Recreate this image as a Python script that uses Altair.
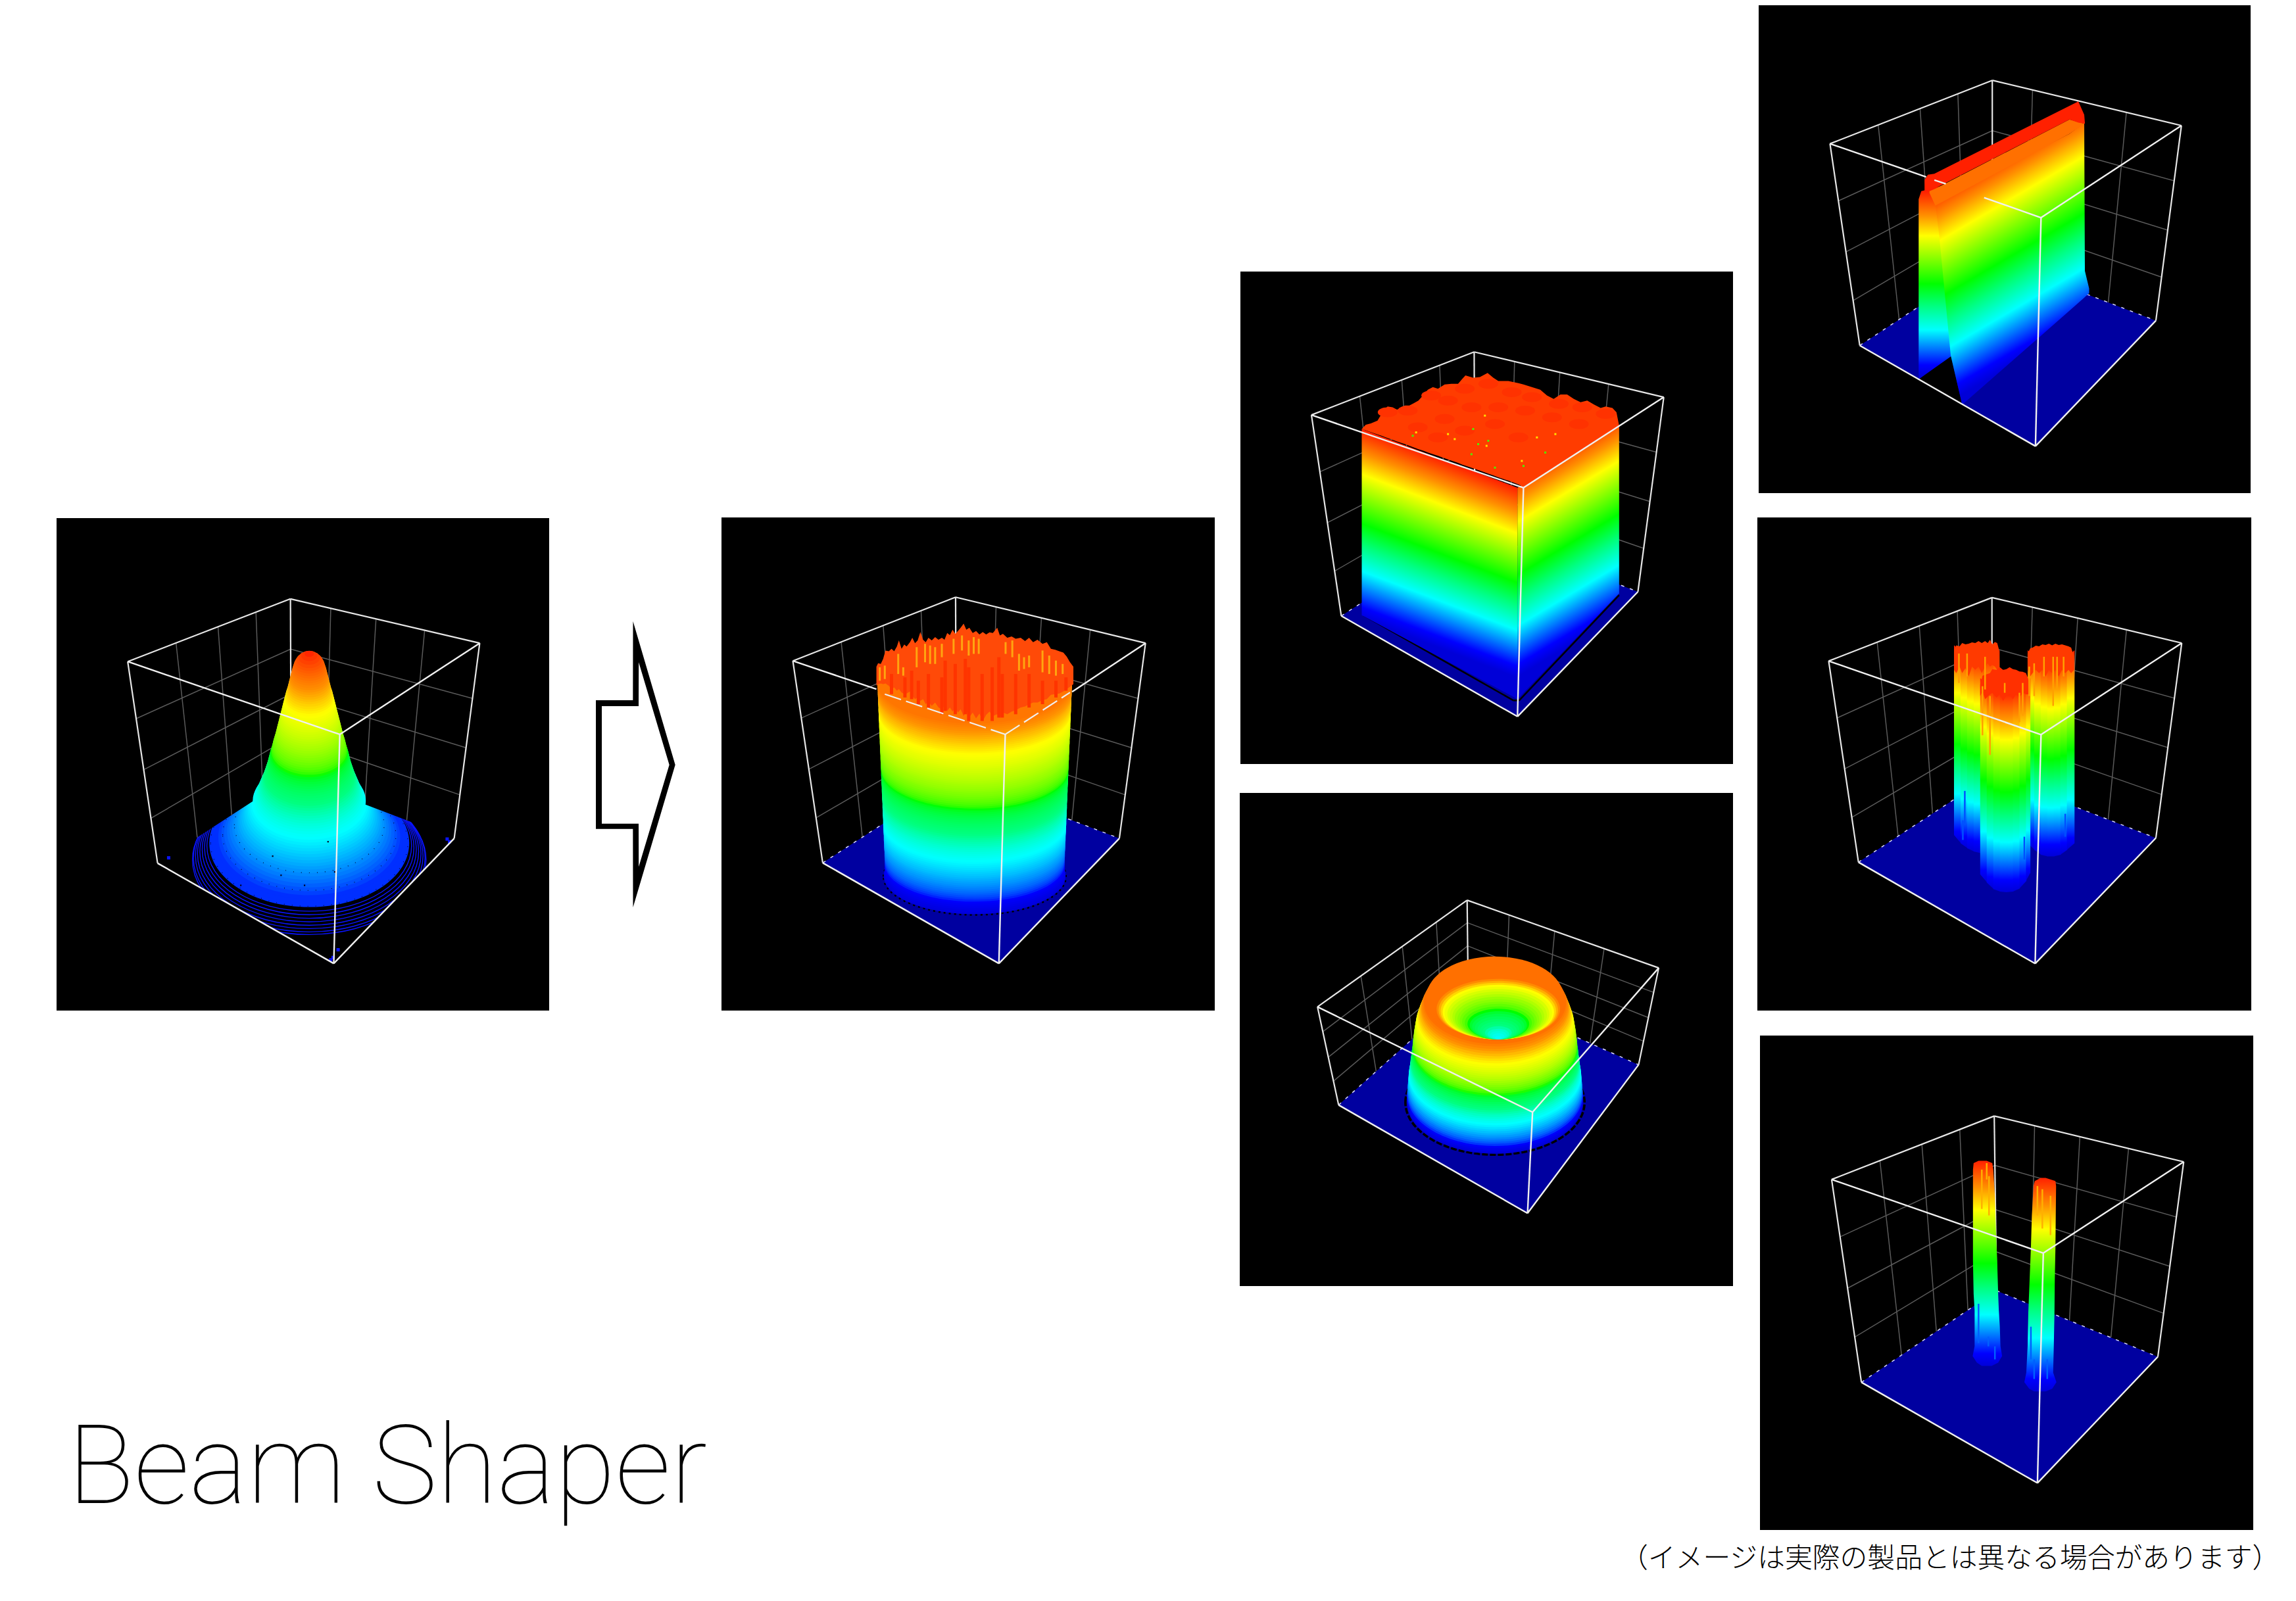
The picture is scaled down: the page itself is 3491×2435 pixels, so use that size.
import altair as alt
import pandas as pd

# ---------------- readings of each panel (in crop-reading units) ----------------
PANELS = {
    "gauss":  dict(ox=60,   oy=770,  sx=1.96, sy=1.96, rect=(86,788,835,1537),
                   TB=(748,276), TR=(1312,408), TL=(263,463), TF=(895,680), BL=(352,1064), BR=(1236,990), BF=(877,1363), BB=(750,805)),
    "cyl":    dict(ox=1080, oy=770,  sx=1.96, sy=1.96, rect=(1097,787,1847,1537),
                   TB=(731,271), TR=(1297,408), TL=(246,461), TF=(879,680), BL=(335,1063), BR=(1219,990), BF=(860,1363), BB=(733,805)),
    "cube":   dict(ox=1870, oy=400,  sx=1.96, sy=1.96, rect=(1886,413,2635,1162),
                   TB=(728,265), TR=(1293,400), TL=(243,453), TF=(875,670), BL=(332,1052), BR=(1216,980), BF=(857,1352), BB=(730,795)),
    "donut":  dict(ox=1870, oy=1200, sx=1.96, sy=2.01, rect=(1885,1206,2635,1956),
                   TB=(707,340), TR=(1278,547), TL=(261,666), TF=(902,988), BL=(324,966), BR=(1218,843), BF=(887,1297), BB=(710,612),
                   fl=(.29,.567,.794), fr=(.219,.457,.715), fh=(.253,.513,.757)),
    "rail":   dict(ox=2670, oy=0,    sx=2.01, sy=2.063, rect=(2674,0,3422,750),
                   TB=(722,252), TR=(1300,394), TL=(226,451), TF=(871,683), BL=(317,1084), BR=(1222,1006), BF=(854,1400), BB=(722,810)),
    "three":  dict(ox=2670, oy=780,  sx=2.01, sy=2.01, rect=(2672,787,3423,1537),
                   TB=(721,259), TR=(1301,398), TL=(222,453), TF=(871,678), BL=(313,1068), BR=(1222,994), BF=(853,1378), BB=(721,800)),
    "two":    dict(ox=2670, oy=1570, sx=2.01, sy=2.01, rect=(2676,1575,3426,2327),
                   TB=(728,256), TR=(1307,396), TL=(231,450), TF=(878,675), BL=(322,1070), BR=(1228,992), BF=(860,1378), BB=(735,790)),
}
FL, FR, FH = (.297,.555,.788), (.213,.452,.709), (.283,.536,.777)

RAINBOW = [(0,'#0000d8'),(.06,'#0000ff'),(.25,'#00ffff'),(.38,'#00ff80'),(.5,'#00ff00'),(.76,'#ffff00'),(.87,'#ff9000'),(1,'#ff2000')]

# Gaussian profile: (centre height, half-width)
G = [(440,14),(446,24),(452,32),(458,38),(464,42),(470,45),(476,47),(482,49),(488,51),(494,52.5),(500,54),(506,55.5),(512,57),(518,58.5),(524,60),(530,61.5),(536,63),(542,64.5),(548,66),(554,68),(560,70),(566,71.5),(572,73),(578,74.5),(584,76),(590,77.5),(596,79),(602,80.5),(608,82),(614,83.5),(620,85),(626,86.5),(632,88),(638,89.5),(644,91),(650,92.5),(656,94),(662,95.5),(668,97),(674,98.5),(680,100),(686,101.5),(692,103),(698,105),(704,107),(710,108.5),(716,110),(722,111.5),(728,113),(734,115),(740,117),(746,118.5),(752,120),(758,121.5),(764,123),(770,124.5),(776,126),(782,128),(788,130),(794,132),(800,134),(806,136),(812,138),(818,140.5),(824,143),(830,145.5),(836,148),(842,150.5),(848,153),(854,155.5),(860,158),(866,161.5),(872,165),(878,168.5),(884,172),(890,176),(896,180),(902,184),(908,188),(914,192.5),(920,197),(926,202),(932,207),(938,212),(944,217),(950,223.5),(956,230),(962,237.5),(968,245),(974,253.5),(980,262),(986,271),(992,280),(998,289),(1004,298)]
G_RING_CY = [1012,1018,1024,1030,1036,1042,1048,1054]
G_RING_R  = [305,312,319,326,333,339,345,348]
G_STIPPLE_CY = [950,980,1004]
G_STIPPLE_R  = [223,258,294]
G_SPECK_X = [695,880,790,860,720,600,650,1010]
G_SPECK_Y = [1043,1090,1130,1000,1100,1130,1170,1150]
G_BLUE_X = [1215,875,890,385,1222,868]
G_BLUE_Y = [992,1345,1322,1048,1000,1352]
G_MASK_BACK_L = dict(x=[300,352,750], top=[600,600,600], bot=[1098,1064,805])
G_MASK_BACK_R = dict(x=[750,1236,1290], top=[600,600,600], bot=[805,990,1012])
G_MASK_FRONT_L = dict(x=[300,352,877], top=[1098,1064,1363], bot=[1460,1460,1460])
G_MASK_FRONT_R = dict(x=[877,1236,1290], top=[1363,990,934], bot=[1460,1460,1460])

# Cylinder profile
C_CY = list(range(1102,513,-6))
C_R  = [271,270,269,269,268,268,268,268,268,268,269,269,269,269,270,270,270,270,271,271,271,271,272,272,272,272,
        273,273,273,273,274,274,274,274,275,275,275,275,276,276,276,276,277,277,277,277,278,278,278,278,279,279,279,279,
        280,280,280,280,281,281,281,281,282,282,282,282,283,283,283,283,284,284,284,284,285,285,285,285,286,286,286,286,
        287,287,287,287,288,288,288,288,289,289,289,289,290,290,290]
CROWN = [(495,478,535),(500,468,530),(508,470,528),(515,455,530),(522,430,528),(532,432,535),(540,425,545),(548,432,540),(556,418,550),(562,400,545),(570,425,555),(578,412,560),(585,418,558),(595,405,552),(602,392,565),(610,408,575),(618,400,570),(626,375,580),(634,398,575),(642,405,590),(650,392,582),(660,400,595),(670,390,585),(680,398,600),(690,392,605),(698,398,595),(706,378,610),(714,384,600),(722,368,612),(730,380,600),(738,372,615),(746,362,605),(755,350,625),(763,368,610),(772,362,628),(782,378,615),(792,372,632),(802,382,618),(812,375,640),(822,382,622),(832,376,612),(842,378,625),(855,362,620),(863,385,630),(872,380,615),(885,392,620),(898,388,612),(910,395,608),(925,392,600),(938,402,597),(950,392,590),(962,405,585),(975,398,585),(990,410,578),(1003,405,575),(1015,425,562),(1028,428,560),(1040,432,558),(1052,436,552),(1062,448,545),(1072,465,538),(1082,478,530)]
C_ORANGE = [(560,440,500),(575,480,505),(615,420,480),(640,410,465),(655,415,470),(670,420,470),(690,410,450),(725,395,440),(750,385,430),(770,400,445),(785,390,440),(800,395,440),(880,405,440),(900,400,450),(920,440,490),(935,450,485),(950,445,480),(990,430,495),(1010,445,500),(1030,460,505),(1050,470,500),(505,480,520),(520,475,515)]
C_RED = [(540,500,560),(580,510,570),(620,520,590),(650,500,600),(690,510,620),(730,470,620),(770,480,640),(810,500,640),(840,480,640),(870,500,630),(910,500,620),(950,500,600),(990,520,590),(1030,520,570),(1060,510,550),(600,490,575),(700,460,610),(760,455,620),(860,450,630)]

# Cube
CUBE_L = dict(x=[393,857], top=[495,670], bot=[1050,1300])
CUBE_R = dict(x=[857,1160], top=[670,485], bot=[1300,985])
CUBE_TOP = [(393,495,495),(405,482,499),(420,478,504),(440,470,511),(452,450,515),(462,435,519),(470,428,522),(485,430,527),(498,437,532),(510,432,536),(522,425,540),(535,425,545),(548,418,550),(562,410,555),(578,392,560),(590,378,565),(605,370,570),(620,375,575),(640,362,582),(660,360,589),(680,360,596),(693,345,601),(702,335,604),(725,342,612),(745,340,619),(768,328,627),(785,342,633),(800,352,639),(830,352,649),(860,358,660),(875,362,668),(900,370,650),(925,378,634),(945,395,622),(965,405,609),(985,392,596),(1005,392,584),(1025,405,571),(1045,415,559),(1065,410,547),(1085,422,534),(1105,432,522),(1120,428,513),(1140,432,500),(1152,445,494),(1160,485,488)]
CUBE_BUMP_X = [470,530,600,650,700,770,840,900,980,1050,1120,560,640,720,800,880,960,1040,620,700,790,860]
CUBE_BUMP_Y = [445,440,395,410,375,360,385,400,420,430,450,490,465,430,430,440,460,480,520,500,480,520]
CUBE_SPECK_X = [770,725,740,875,790,940,545,720,670,760,970,555,765,650,870,915]
CUBE_SPECK_Y = [530,495,540,605,610,565,515,570,525,455,510,505,545,510,590,520]

# Donut: (centre height, half-width)
D = [(958,262),(952,262),(946,262),(940,262),(934,262),(928,261),(922,261),(916,260),(910,260),(904,259),(898,259),(892,258),(886,258),(880,257),(874,257),(868,256),(862,255),(856,254),(850,253),(844,252),(838,252),(832,251),(826,250),(820,249),(814,249),(808,248),(802,247),(796,246),(790,246),(784,245),(778,245),(772,244),(766,243),(760,242),(754,242),(748,241),(742,240),(736,239),(730,238),(724,237),(718,236),(712,235),(706,233),(700,231),(694,229),(688,227),(682,225),(676,222),(670,220),(664,218),(658,215),(652,212),(646,209),(640,206),(634,203)]
H_CY = [673,676,679,682,685,688,692,696,700,704,708,711,715,718,722,726,730,734,738,742,745,749,752,756,760]
H_R  = [184,178,172,166,160,152,145,137,130,122,115,108,100,92,85,78,70,62,55,47,40,32,25,18,10]
H_LV = [88,84,80,76,73,69,66,63,60,58,56,54,52,50,48,46,44,42,40,38,35,32,30,28,26]

# Rail
RAIL_LEFT = dict(x=[497,505,600], top=[625,600,575], bot=[1190,1184,1115])
RAIL_GAP  = dict(x=[497,595,630], top=[1190,1115,1270], bot=[1190,1249,1270])
RAIL_FACE = dict(x=[548,560,595,630,958,1003,1005,1018], top=[640,635,612,590,420,385,850,905], bot=[640,740,1115,1270,975,934,932,920])
RAIL_RED  = dict(x=[515,525,545,958,985,1003,1005], top=[565,548,545,332,318,360,385], bot=[600,600,592,375,385,388,388])
RAIL_ORG  = dict(x=[530,548,958,1003], top=[600,592,375,388], bot=[605,645,420,388])

# Three pillars
PA = dict(x=[605,625,645,665,685,705,725,743], top=[405,420,432,440,441,440,432,420], bot=[985,1010,1025,1035,1040,1040,1030,1000])
PB = dict(x=[830,850,870,890,910,930,950,972], top=[420,438,450,457,458,452,440,420], bot=[1010,1030,1045,1050,1050,1045,1030,1010])
PC = dict(x=[685,705,725,745,765,785,805,825,837], top=[505,525,540,547,548,547,540,522,505], bot=[1105,1130,1150,1158,1160,1158,1148,1125,1100])
CA = [(605,425,480),(612,405,490),(622,408,470),(630,398,490),(640,402,475),(650,400,500),(660,396,470),(670,398,480),(680,392,470),(690,398,490),(700,392,470),(708,398,460),(715,388,470),(722,402,465),(730,395,470),(737,398,480),(743,420,480)]
CB = [(830,430,480),(838,414,500),(845,412,490),(855,406,480),(865,408,490),(875,402,480),(885,404,500),(895,400,480),(905,405,490),(915,400,480),(925,404,500),(935,402,480),(945,405,490),(955,408,480),(963,412,490),(972,440,480)]
CC = [(685,525,560),(692,498,545),(700,495,570),(715,490,555),(722,478,550),(735,480,565),(745,472,555),(755,480,575),(765,478,560),(775,472,555),(785,478,570),(795,480,555),(805,485,565),(815,486,550),(825,490,555),(837,520,555)]
P_ORANGE = [(645,430,500),(700,440,540),(715,560,740),(805,550,640),(835,470,560),(850,460,560),(908,440,590),(920,440,540),(620,430,520),(692,530,680),(760,520,550),(880,440,500),(940,440,500),(815,520,620)]
P_BLUE = [(638,850,950),(820,990,1060),(945,920,990),(632,940,1000)]

# Two pillars (silhouette rows)
T1 = dict(y=[393,400,420,500,600,700,800,850,900,960,990,1010,1020], l=[680,665,663,663,663,663,665,668,668,668,662,675,690], r=[705,722,725,730,733,737,740,742,745,747,752,740,720])
T2 = dict(y=[445,455,470,560,660,760,860,960,1040,1070,1090,1098], l=[870,852,848,843,840,836,832,830,826,820,835,850], r=[885,915,917,916,915,913,912,910,908,918,905,885])
T_ORANGE = [(690,420,540),(712,440,560),(875,480,600),(900,500,620),(705,400,450),(860,470,560)]
T_BLUE = [(680,830,950),(710,930,960),(730,960,1000),(840,900,1000),(890,1000,1060),(850,1000,1060)]

# Arrow (crop readings at 3x from 880,930)
AR_OUT = dict(x=[78,247,247.5,440], top=[405,405,45,700], bot=[992,992,1350,700])
AR_IN  = dict(x=[105,273,273.5,413], top=[432,432,232,700], bot=[968,968,1165,700])

TITLE = "Beam Shaper"
NOTE = "（イメージは実際の製品とは異なる場合があります）"

# ---------------- chart helpers ----------------
XS = alt.Scale(domain=[8,3483], nice=False, zero=False)
YS = alt.Scale(domain=[2427,8], nice=False, zero=False)
X = alt.X('x:Q', scale=XS, axis=None)
Y = alt.Y('y:Q', scale=YS, axis=None)
layers = []

def pt(p, zx, zy):
    return p['ox'] + zx/p['sx'], p['oy'] + zy/p['sy']

def lerp(a, b, f):
    return (a[0]+(b[0]-a[0])*f, a[1]+(b[1]-a[1])*f)

def grad(x1=0, y1=1, x2=0, y2=0):
    return alt.Gradient(gradient='linear', x1=x1, y1=y1, x2=x2, y2=y2,
                        stops=[alt.GradientStop(color=c, offset=o) for o, c in RAINBOW])

def tilted(f, slope, xref, y0, y1):
    xmin, xmax = min(f['x']), max(f['x'])
    ymin, ymax = min(f['top']), max(f['bot'])
    W, H = xmax-xmin, ymax-ymin
    m = slope*W/H
    n = (1+m*m)**.5
    d = (-m/n, 1/n)
    u = (xref-xmin)/W
    t0 = u*d[0] + (y0-ymin)/H*d[1]
    t1 = u*d[0] + (y1-ymin)/H*d[1]
    return grad(d[0]*t0, d[1]*t0, d[0]*t1, d[1]*t1)

def rules(segs, color, width, dash=None):
    df = pd.DataFrame([dict(x=a[0], y=a[1], x2=b[0], y2=b[1]) for a, b in segs])
    kw = dict(color=color, strokeWidth=width)
    if dash:
        kw['strokeDash'] = dash
    layers.append(alt.Chart(df).mark_rule(**kw).encode(x=X, y=Y, x2=alt.X2('x2:Q'), y2=alt.Y2('y2:Q')))

def area(p, f, color):
    rows = []
    for x, t, b in zip(f['x'], f['top'], f['bot']):
        px, pt_ = pt(p, x, t)
        _, pb = pt(p, x, b)
        rows.append(dict(x=px, y=pt_, y2=pb))
    layers.append(alt.Chart(pd.DataFrame(rows)).mark_area(color=color, line=False).encode(x=X, y=Y, y2=alt.Y2('y2:Q')))

def triples(t):
    return dict(x=[a for a, b, c in t], top=[b for a, b, c in t], bot=[c for a, b, c in t])

def columns(p, f):
    rows = []
    n = len(f['x'])
    for i in range(n-1):
        for j, extra in ((i, 0), (i+1, .7)):
            px, pt_ = pt(p, f['x'][j], f['top'][j])
            _, pb = pt(p, f['x'][j], f['bot'][j])
            rows.append(dict(id=i, x=px+extra, y=pt_, y2=pb))
    layers.append(alt.Chart(pd.DataFrame(rows)).mark_area(color=grad(), line=False).encode(
        x=X, y=Y, y2=alt.Y2('y2:Q'), detail='id:N'))

def silhouette(p, f):
    rows = []
    for y, l, r in zip(f['y'], f['l'], f['r']):
        a = pt(p, l, y)
        b = pt(p, r, y)
        rows.append(dict(x=a[0], x2=b[0], y=a[1]))
    layers.append(alt.Chart(pd.DataFrame(rows)).mark_area(color=grad(), line=False, orient='horizontal').encode(
        x=X, x2=alt.X2('x2:Q'), y=Y))

def ell(ratio):
    return f"M-1,0A1,{ratio} 0 1,1 1,0A1,{ratio} 0 1,1 -1,0Z"

LEVEL = alt.Color('level:Q', legend=None, scale=alt.Scale(
    domain=[o*100 for o, c in RAINBOW], range=[c for o, c in RAINBOW]))

def discs(p, cx, cys, rs, levels, ratio):
    rows = []
    for cy, r, lv in zip(cys, rs, levels):
        x, y = pt(p, cx, cy)
        rows.append(dict(x=x, y=y, s=(2*r/p['sx'])**2, level=lv, o=len(rows)))
    layers.append(alt.Chart(pd.DataFrame(rows)).mark_point(filled=True, opacity=1, shape=ell(ratio), strokeWidth=0).encode(
        x=X, y=Y, size=alt.Size('s:Q', scale=None, legend=None), color=LEVEL, order=alt.Order('o:Q')))

def outline(p, cx, cys, rs, ratio, color, width, dash=None):
    rows = []
    for cy, r in zip(cys, rs):
        x, y = pt(p, cx, cy)
        rows.append(dict(x=x, y=y, s=(2*r/p['sx'])**2))
    kw = dict(filled=False, opacity=1, shape=ell(ratio), color=color, strokeWidth=width)
    if dash:
        kw['strokeDash'] = dash
    layers.append(alt.Chart(pd.DataFrame(rows)).mark_point(**kw).encode(
        x=X, y=Y, size=alt.Size('s:Q', scale=None, legend=None)))

def dots(p, xs, ys, color, size, shape='square'):
    rows = []
    for a, b in zip(xs, ys):
        x, y = pt(p, a, b)
        rows.append(dict(x=x, y=y))
    layers.append(alt.Chart(pd.DataFrame(rows)).mark_point(filled=True, opacity=1, shape=shape, color=color, size=size, strokeWidth=0).encode(x=X, y=Y))

def streaks(p, items, color, width):
    rules([(pt(p, x, a), pt(p, x, b)) for x, a, b in items], color, width)

# ---------------- black panels ----------------
rect_df = pd.DataFrame([dict(x=max(p['rect'][0],8), y=max(p['rect'][1],8), x2=p['rect'][2], y2=p['rect'][3]) for p in PANELS.values()])
layers.append(alt.Chart(rect_df).mark_rect(color='#000000').encode(x=X, y=Y, x2=alt.X2('x2:Q'), y2=alt.Y2('y2:Q')))

# ---------------- Gaussian skirt (below the wire box) ----------------
p = PANELS['gauss']
outline(p, 804, G_RING_CY, G_RING_R, .64, '#0a14ff', 1.4)
lower = [g for g in G if g[0] >= 884][::-1]
discs(p, 804, [g[0] for g in lower], [g[1] for g in lower], [max(100*(1032-g[0])/594, 7) for g in lower], .64)
outline(p, 804, G_STIPPLE_CY, G_STIPPLE_R, .64, '#000030', 1.2, [1, 11])
for m in (G_MASK_BACK_L, G_MASK_BACK_R, G_MASK_FRONT_L, G_MASK_FRONT_R):
    area(p, m, '#000000')
dots(p, G_BLUE_X, G_BLUE_Y, '#0a14ff', 25)

# ---------------- wire boxes ----------------
grid, back = [], []
for p in PANELS.values():
    fl, fr, fh = p.get('fl', FL), p.get('fr', FR), p.get('fh', FH)
    P = {k: pt(p, *p[k]) for k in ('TB','TR','TL','TF','BL','BR','BF','BB')}
    for f in fl:
        grid.append((lerp(P['TL'],P['TB'],f), lerp(P['BL'],P['BB'],f)))
    for f in fr:
        grid.append((lerp(P['TB'],P['TR'],f), lerp(P['BB'],P['BR'],f)))
    for h in fh:
        m = lerp(P['TB'],P['BB'],h)
        grid.append((lerp(P['TL'],P['BL'],h), m))
        grid.append((m, lerp(P['TR'],P['BR'],h)))
    back += [(P['TL'],P['TB']),(P['TB'],P['TR']),(P['TL'],P['BL']),(P['TR'],P['BR']),(P['TB'],P['BB'])]
rules(grid, '#5a5a5a', 1.5)
rules(back, '#e6e6e6', 2.2)

# ---------------- floors ----------------
rows = []
for name, p in PANELS.items():
    if name == 'gauss':
        continue
    BL, BB, BF, BR = [pt(p, *p[k]) for k in ('BL','BB','BF','BR')]
    top_f = BB[1] + (BR[1]-BB[1])*(BF[0]-BB[0])/(BR[0]-BB[0])
    bot_b = BL[1] + (BF[1]-BL[1])*(BB[0]-BL[0])/(BF[0]-BL[0])
    rows += [dict(id=name, x=BL[0], y=BL[1], y2=BL[1]), dict(id=name, x=BB[0], y=BB[1], y2=bot_b),
             dict(id=name, x=BF[0], y=top_f, y2=BF[1]), dict(id=name, x=BR[0], y=BR[1], y2=BR[1])]
layers.append(alt.Chart(pd.DataFrame(rows)).mark_area(color='#0000a0', line=False).encode(x=X, y=Y, y2=alt.Y2('y2:Q'), detail='id:N'))
dash = []
for name, p in PANELS.items():
    if name != 'gauss':
        dash += [(pt(p,*p['BL']), pt(p,*p['BB'])), (pt(p,*p['BB']), pt(p,*p['BR']))]
rules(dash, '#d8d8ff', 1.5, [5, 9])

# ---------------- Gaussian dome ----------------
p = PANELS['gauss']
upper = [g for g in G if g[0] < 884][::-1]
discs(p, 804, [g[0] for g in upper], [g[1] for g in upper], [100*(1032-g[0])/594 for g in upper], .64)
dots(p, G_SPECK_X, G_SPECK_Y, '#000020', 5)

# ---------------- Cylinder ----------------
p = PANELS['cyl']
outline(p, 788, [1104], [272], .42, '#000000', 2.5, [3, 5])
discs(p, 788, C_CY, C_R, [(1108-c)/6.38 for c in C_CY], .42)
area(p, triples(CROWN), '#ff4a08')
streaks(p, C_RED, '#ff3400', 5)
streaks(p, C_ORANGE, '#ffa510', 3)

# ---------------- Cube ----------------
p = PANELS['cube']
rules([(pt(p,398,1050),pt(p,845,1304)),(pt(p,845,1304),pt(p,862,1304)),(pt(p,862,1304),pt(p,1160,990))], '#000000', 2.5)
area(p, CUBE_L, tilted(CUBE_L, .38, 393, 1060, 494))
area(p, CUBE_R, tilted(CUBE_R, -.6, 1160, 1052, 444))
area(p, triples(CUBE_TOP), '#ff3c00')
dots(p, CUBE_BUMP_X, CUBE_BUMP_Y, '#ff3200', 900, ell(.5))
dots(p, CUBE_SPECK_X[:8], CUBE_SPECK_Y[:8], '#50f000', 9)
dots(p, CUBE_SPECK_X[8:], CUBE_SPECK_Y[8:], '#ffe000', 9)

# ---------------- Donut ----------------
p = PANELS['donut']
outline(p, 790, [958], [267], .585, '#000000', 3.5, [9, 3])
discs(p, 790, [d[0] for d in D], [d[1] for d in D], [min((958-d[0])/3.33, 92) for d in D], .585)
discs(p, 800, H_CY, H_R, H_LV, .49)

# ---------------- Rail ----------------
p = PANELS['rail']
area(p, RAIL_GAP, '#000000')
area(p, RAIL_LEFT, tilted(RAIL_LEFT, 0, 497, 1180, 601))
area(p, RAIL_FACE, tilted(RAIL_FACE, -.6, 1003, 1014, 324))
area(p, RAIL_ORG, '#ff7000')
area(p, RAIL_RED, '#ff2000')

# ---------------- Three pillars ----------------
p = PANELS['three']
columns(p, PA)
area(p, triples(CA), '#ff3a00')
columns(p, PB)
area(p, triples(CB), '#ff3a00')
columns(p, PC)
area(p, triples(CC), '#ff3000')
streaks(p, P_ORANGE, '#ffa000', 2.5)
streaks(p, P_BLUE, '#0050ff', 2.5)

# ---------------- Two pillars ----------------
p = PANELS['two']
silhouette(p, T1)
silhouette(p, T2)
streaks(p, T_ORANGE, '#ffb000', 2.5)
streaks(p, T_BLUE, '#0060ff', 2.5)

# ---------------- Front edges ----------------
front = []
for name, p in PANELS.items():
    P = {k: pt(p, *p[k]) for k in ('TL','TF','TR','BL','BR','BF')}
    front += [(P['TF'],P['BF']),(P['BL'],P['BF']),(P['BF'],P['BR'])]
    if name == 'cyl':
        front += [(P['TL'],pt(p,495,545)),(pt(p,1078,553),P['TR'])]
    elif name == 'rail':
        front += [(P['TL'],pt(p,520,555)),(pt(p,545,565),pt(p,580,577)),(pt(p,697,620),P['TF']),(P['TF'],P['TR'])]
    else:
        front += [(P['TL'],P['TF']),(P['TF'],P['TR'])]
rules(front, '#f0f0f0', 2.4)
p = PANELS['cyl']
rules([(pt(p,520,560),pt(p,879,680)),(pt(p,879,680),pt(p,1072,555))], '#f0f0f0', 2.2, [26, 8])

# ---------------- Arrow ----------------
arrow = dict(ox=880, oy=930, sx=3, sy=3)
area(arrow, AR_OUT, '#000000')
area(arrow, AR_IN, '#ffffff')

# ---------------- Text ----------------
layers.append(alt.Chart(pd.DataFrame([dict(x=103, y=2286)])).mark_text(
    text=TITLE, fontSize=167, font='Roboto', fontWeight=100, align='left', baseline='alphabetic', color='#000000',
).encode(x=X, y=Y))
layers.append(alt.Chart(pd.DataFrame([dict(x=2464, y=2384)])).mark_text(
    text=NOTE, fontSize=41.8, font='Noto Sans CJK JP', fontWeight=300, align='left', baseline='alphabetic', color='#000000',
).encode(x=X, y=Y))

chart = alt.layer(*layers).properties(width=3475, height=2419, padding=0, autosize='none', background='#ffffff').configure_view(strokeWidth=0)
chart.save("out.html", embed_options={"renderer": "svg", "actions": False})
